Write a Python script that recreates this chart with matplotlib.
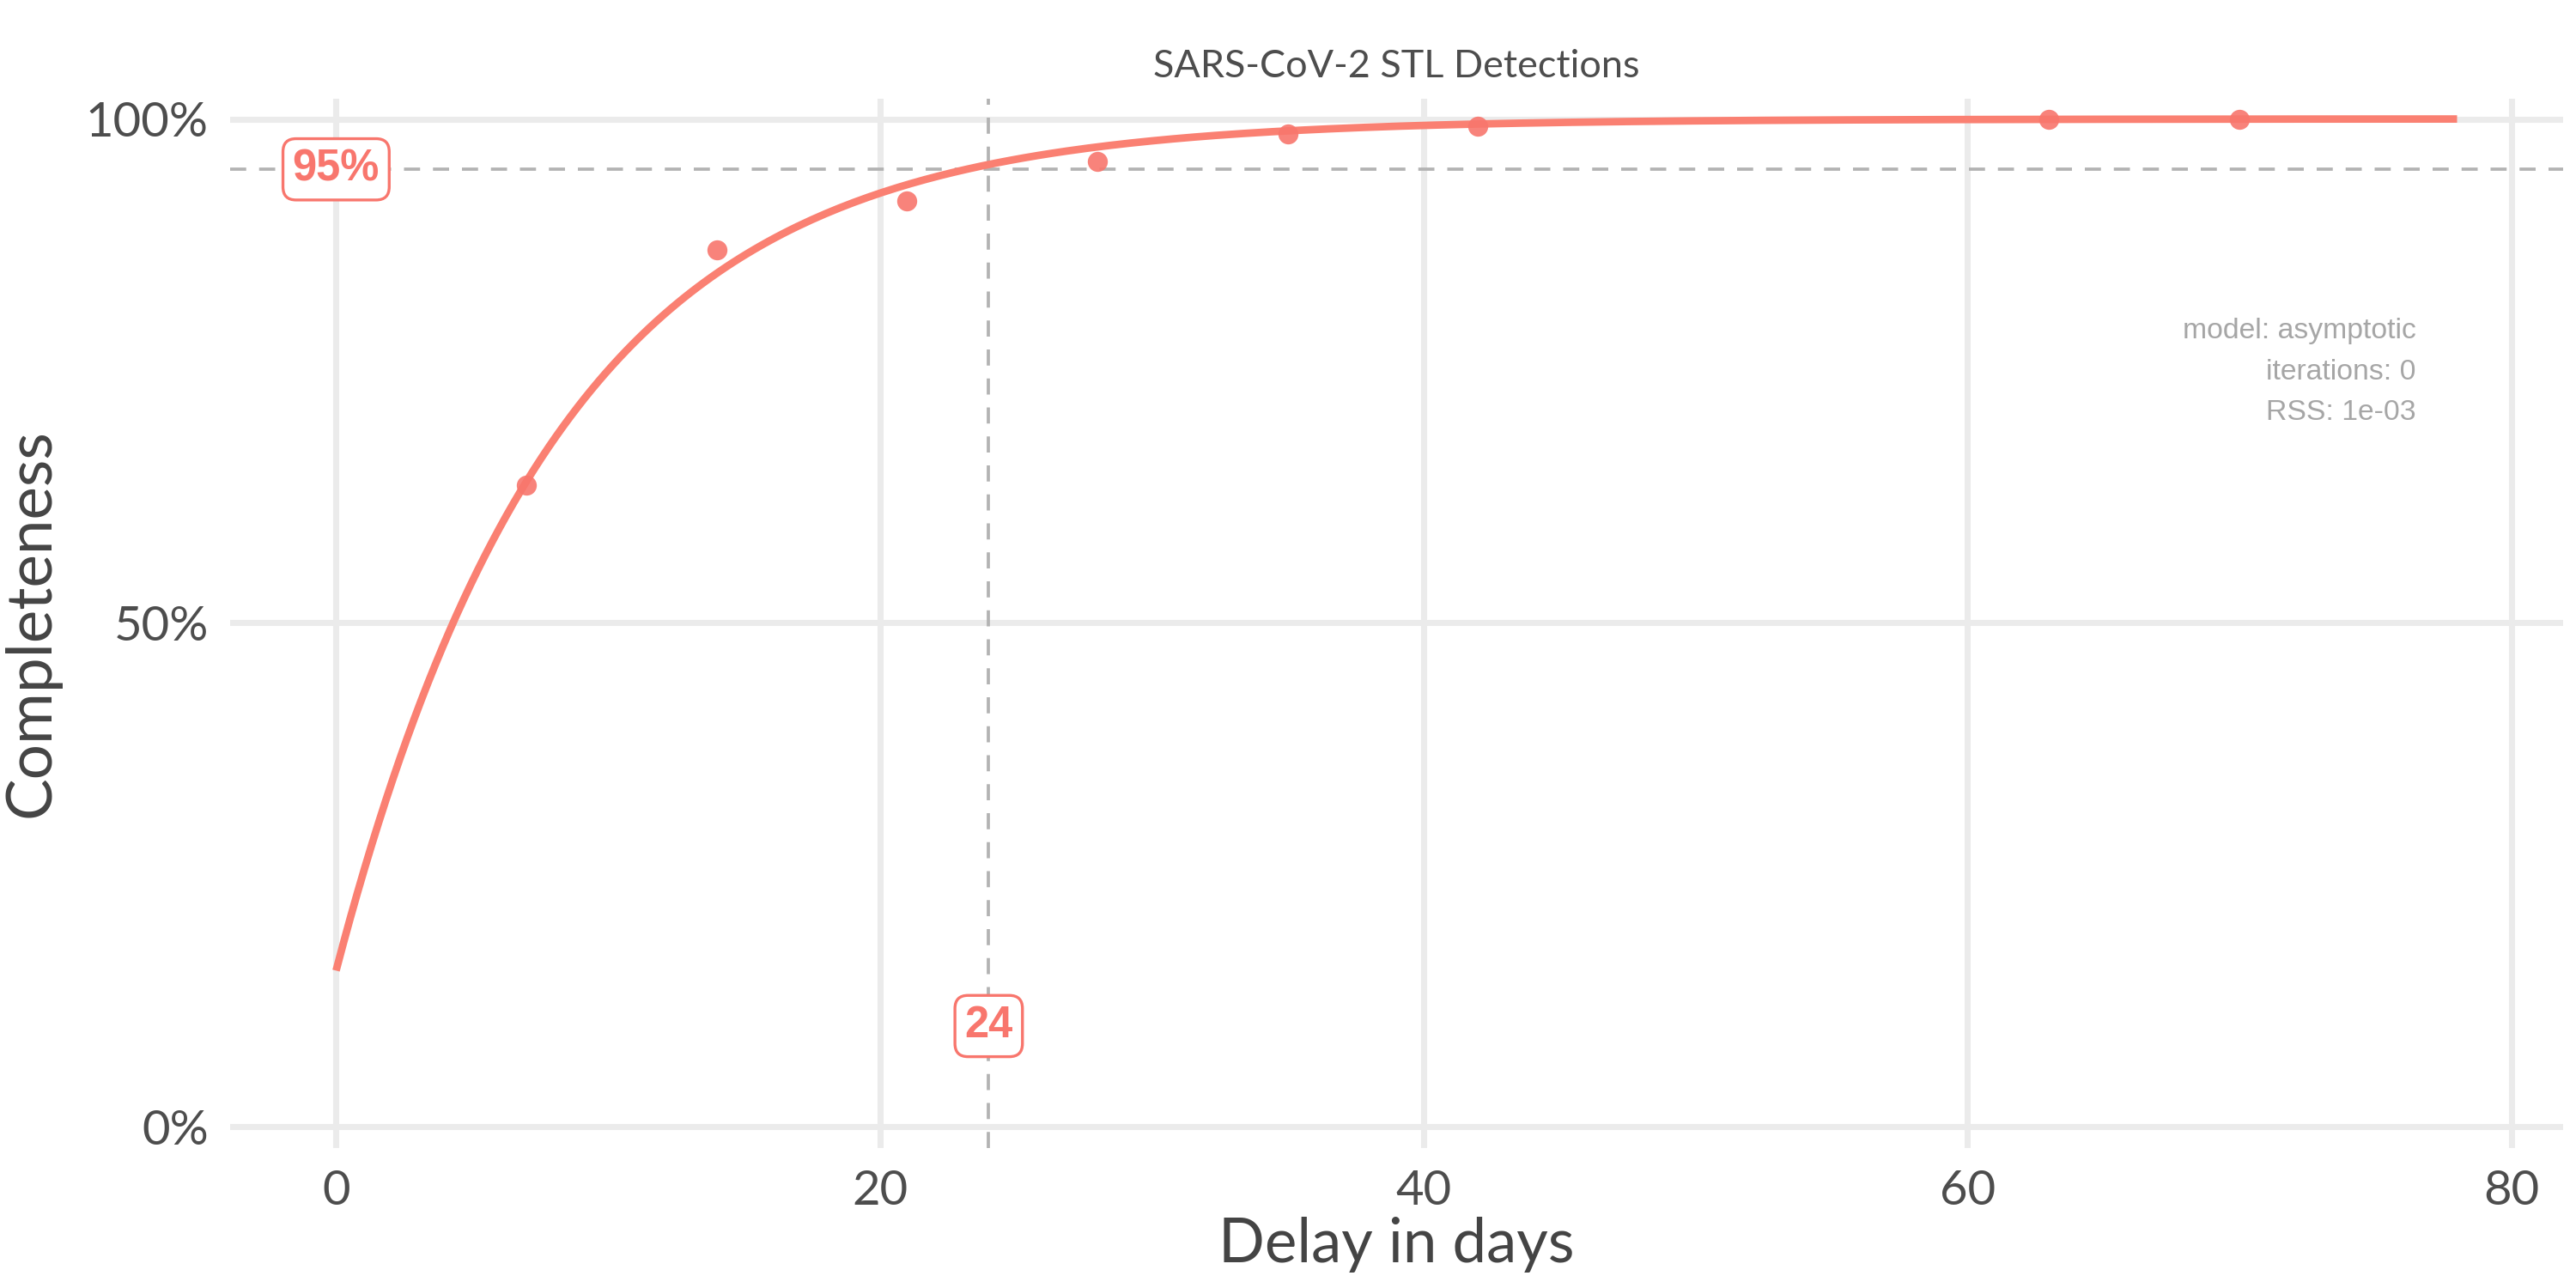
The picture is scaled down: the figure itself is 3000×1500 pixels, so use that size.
import numpy as np
import matplotlib
matplotlib.use("Agg")
import matplotlib.pyplot as plt

# observed completeness by delay (days)
delay_days = [7, 14, 21, 28, 35, 42, 63, 70]
completeness = [0.637, 0.870, 0.919, 0.958, 0.985, 0.993, 1.0, 1.0]

# asymptotic model fit
asym = 1.0
r0 = 0.155
rate = 0.122
fit_max_day = 78

cutoff_pct = 0.95
cutoff_day = 24

col = "#F8766D"
txt = "#4D4D4D"

plt.rcParams["font.family"] = ["Lato", "DejaVu Sans"]

fig = plt.figure(figsize=(10, 5), dpi=300)
ax = fig.add_axes([0.0893, 0.1087, 0.9057, 0.8146])

xs = np.linspace(0, fit_max_day, 300)
ys = asym + (r0 - asym) * np.exp(-rate * xs)

ax.axhline(cutoff_pct, color="#B3B3B3", lw=0.9, ls=(0, (5, 4)), zorder=2)
ax.axvline(cutoff_day, color="#B3B3B3", lw=0.9, ls=(0, (5, 4)), zorder=2)
ax.plot(xs, ys, color="#FA8072", lw=2.1, zorder=3, solid_capstyle="butt")
ax.plot(delay_days, completeness, "o", color=col, ms=5.6, alpha=0.9, mec="none", zorder=4)

box = dict(boxstyle="round,pad=0.22,rounding_size=0.3", fc="white", ec=col, lw=0.8)
ax.text(0, cutoff_pct, "95%", color=col, fontsize=12.2, fontweight="bold",
        family=["Liberation Sans"], ha="center", va="center", bbox=box, zorder=5)
ax.text(cutoff_day, 0.1, str(cutoff_day), color=col, fontsize=12.2, fontweight="bold",
        family=["Liberation Sans"], ha="center", va="center", bbox=box, zorder=5)

ax.text(76.5, 0.749, "model: asymptotic\niterations: 0\nRSS: 1e-03", color="#A6A6A6",
        fontsize=8.1, family=["Liberation Sans"], ha="right", va="center",
        linespacing=1.68, zorder=5)

ax.set_xlim(-3.9, 81.9)
ax.set_ylim(-0.021, 1.02)
ax.set_xticks([0, 20, 40, 60, 80])
ax.set_yticks([0, 0.5, 1.0])
ax.set_yticklabels(["0%", "50%", "100%"])
ax.grid(True, color="#EBEBEB", lw=1.7)
ax.set_axisbelow(True)
for s in ax.spines.values():
    s.set_visible(False)
ax.tick_params(length=0, labelsize=13.5, labelcolor=txt, pad=6)

ax.set_title("SARS-CoV-2 STL Detections", fontsize=10.8, color=txt, pad=6)
ax.set_xlabel("Delay in days", fontsize=17, color="#444444", labelpad=1)
ax.set_ylabel("Completeness", fontsize=17.5, color="#444444", labelpad=7)

fig.savefig("out.png", dpi=300)
